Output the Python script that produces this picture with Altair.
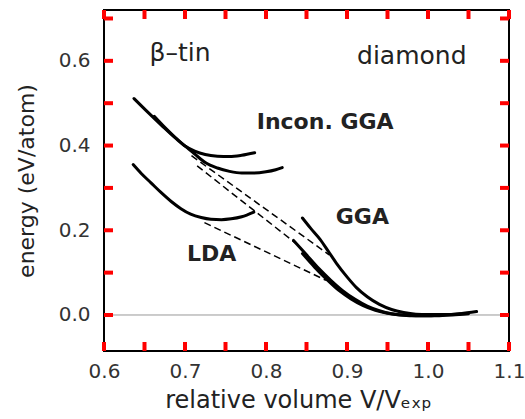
import altair as alt
import pandas as pd

# beta-tin branch (relative volume V/V_exp, energy in eV/atom)
tin_gga_v = [0.637, 0.655, 0.672, 0.688, 0.700, 0.712, 0.725, 0.740, 0.755, 0.770, 0.786]
tin_gga_e = [0.511, 0.477, 0.446, 0.418, 0.399, 0.387, 0.379, 0.375, 0.374, 0.377, 0.383]
tin_incon_v = [0.662, 0.675, 0.688, 0.700, 0.712, 0.725, 0.740, 0.755, 0.770, 0.785, 0.800, 0.812, 0.820]
tin_incon_e = [0.469, 0.443, 0.419, 0.399, 0.380, 0.360, 0.347, 0.339, 0.335, 0.335, 0.338, 0.343, 0.348]
tin_lda_v = [0.636, 0.646, 0.658, 0.670, 0.683, 0.695, 0.707, 0.720, 0.732, 0.745, 0.757, 0.770, 0.785]
tin_lda_e = [0.355, 0.334, 0.312, 0.290, 0.268, 0.251, 0.238, 0.230, 0.226, 0.225, 0.227, 0.232, 0.243]

# diamond branch
dia_gga_v = [0.845, 0.855, 0.867, 0.877, 0.887, 0.900, 0.912, 0.925, 0.940, 0.955, 0.970, 0.985, 1.000, 1.020, 1.040, 1.060]
dia_gga_e = [0.229, 0.205, 0.178, 0.150, 0.122, 0.090, 0.064, 0.043, 0.025, 0.013, 0.006, 0.002, 0.001, 0.001, 0.003, 0.008]
dia_incon_v = [0.834, 0.850, 0.865, 0.880, 0.895, 0.910, 0.925, 0.940, 0.955, 0.970, 1.000, 1.030, 1.050]
dia_incon_e = [0.176, 0.142, 0.110, 0.082, 0.057, 0.037, 0.021, 0.010, 0.003, 0.000, -0.002, 0.000, 0.003]
dia_lda_v = [0.845, 0.860, 0.875, 0.890, 0.905, 0.920, 0.935, 0.950, 0.965, 0.990, 1.020, 1.040]
dia_lda_e = [0.145, 0.113, 0.084, 0.058, 0.038, 0.022, 0.011, 0.004, 0.000, -0.002, 0.000, 0.003]

# common-tangent constructions between the two phases
tan_gga_v = [0.708, 0.878]
tan_gga_e = [0.376, 0.142]
tan_incon_v = [0.715, 0.843]
tan_incon_e = [0.352, 0.160]
tan_lda_v = [0.724, 0.874]
tan_lda_e = [0.218, 0.082]

# zero-energy reference line
zero_v = [0.6, 1.1]
zero_e = [0.0, 0.0]

# annotations
label_text = ["β–tin", "diamond", "Incon. GGA", "GGA", "LDA"]
label_v = [0.694, 0.980, 0.873, 0.919, 0.733]
label_e = [0.619, 0.612, 0.456, 0.232, 0.144]
label_bold = [False, False, True, True, True]

# axis ticks (drawn inward on all four sides)
x_ticks = [0.6, 0.65, 0.7, 0.75, 0.8, 0.85, 0.9, 0.95, 1.0, 1.05, 1.1]
y_ticks = [0.0, 0.1, 0.2, 0.3, 0.4, 0.5, 0.6, 0.7]

FONT = "DejaVu Sans"
W, H = 405, 341
X_DOMAIN = [0.6, 1.1]
Y_DOMAIN = [-0.085, 0.72]
TICK_PX = 9


def frame(name, vs, es):
    return pd.DataFrame({"curve": name, "v": vs, "e": es, "i": range(len(vs))})


solid = pd.concat([
    frame("tin GGA", tin_gga_v, tin_gga_e),
    frame("tin incon GGA", tin_incon_v, tin_incon_e),
    frame("tin LDA", tin_lda_v, tin_lda_e),
    frame("diamond GGA", dia_gga_v, dia_gga_e),
    frame("diamond incon GGA", dia_incon_v, dia_incon_e),
    frame("diamond LDA", dia_lda_v, dia_lda_e),
], ignore_index=True)
dashed = pd.concat([
    frame("tangent GGA", tan_gga_v, tan_gga_e),
    frame("tangent incon GGA", tan_incon_v, tan_incon_e),
    frame("tangent LDA", tan_lda_v, tan_lda_e),
], ignore_index=True)
zero = frame("zero", zero_v, zero_e)
labels = pd.DataFrame({"text": label_text, "v": label_v, "e": label_e,
                       "bold": [1 if b else 0 for b in label_bold]})

# short inward segments for the frame ticks, lengths converted from pixels to data units
dx = TICK_PX * (X_DOMAIN[1] - X_DOMAIN[0]) / W
dy = TICK_PX * (Y_DOMAIN[1] - Y_DOMAIN[0]) / H
tick_rows = []
for e in y_ticks:
    tick_rows.append({"v": X_DOMAIN[0], "v2": X_DOMAIN[0] + dx, "e": e, "e2": e})
    tick_rows.append({"v": X_DOMAIN[1] - dx, "v2": X_DOMAIN[1], "e": e, "e2": e})
for v in x_ticks:
    tick_rows.append({"v": v, "v2": v, "e": Y_DOMAIN[0], "e2": Y_DOMAIN[0] + dy})
    tick_rows.append({"v": v, "v2": v, "e": Y_DOMAIN[1] - dy, "e2": Y_DOMAIN[1]})
tick_segs = pd.DataFrame(tick_rows)

x_scale = alt.Scale(domain=X_DOMAIN, nice=False, zero=False)
y_scale = alt.Scale(domain=Y_DOMAIN, nice=False, zero=False)

axis_style = dict(
    ticks=False, domain=False, grid=False,
    labelFont=FONT, labelFontSize=20, labelColor="#333", labelFlush=False,
    labelOverlap=False, labelBound=False, titleFont=FONT, titleFontWeight="normal",
    titleColor="#222",
)

x_bottom = alt.Axis(
    orient="bottom", values=x_ticks, labelPadding=10,
    labelExpr="abs(round(datum.value*10) - datum.value*10) < 0.001 ? format(datum.value, '.1f') : ''",
    title="relative volume V/Vₑₓₚ", titleFontSize=24, titlePadding=7, titleX=194,
    **axis_style,
)
y_left = alt.Axis(
    orient="left", values=y_ticks, labelPadding=14,
    labelExpr="round(datum.value*10) % 2 == 0 ? format(datum.value, '.1f') : ''",
    title="energy (eV/atom)", titleFontSize=22, titlePadding=20,
    **axis_style,
)

X = alt.X("v:Q", scale=x_scale, axis=x_bottom)
Y = alt.Y("e:Q", scale=y_scale, axis=y_left)

ticks = alt.Chart(tick_segs).mark_rule(color="red", strokeWidth=4).encode(
    x=X, y=Y, x2="v2:Q", y2="e2:Q")

baseline = alt.Chart(zero).mark_line(color="#999", strokeWidth=1).encode(x=X, y=Y)

curves = alt.Chart(solid).mark_line(
    color="black", strokeWidth=3, strokeCap="round", interpolate="monotone"
).encode(x=X, y=Y, detail="curve:N", order="i:Q")

tangents = alt.Chart(dashed).mark_line(
    color="black", strokeWidth=1.5, strokeDash=[7, 4]
).encode(x=X, y=Y, detail="curve:N", order="i:Q")

text_regular = alt.Chart(labels).transform_filter("datum.bold == 0").mark_text(
    font=FONT, fontSize=25, color="#222", align="center", baseline="middle"
).encode(x=X, y=Y, text="text:N")

text_bold = alt.Chart(labels).transform_filter("datum.bold == 1").mark_text(
    font=FONT, fontSize=22, fontWeight="bold", color="#222", align="center", baseline="middle"
).encode(x=X, y=Y, text="text:N")

chart = alt.layer(
    baseline, curves, tangents, text_regular, text_bold, ticks,
).properties(
    width=W, height=H,
    autosize=alt.AutoSizeParams(type="none"),
    padding={"left": 104, "top": 10, "right": 16, "bottom": 68},
    background="white",
).configure_view(
    stroke="black", strokeWidth=2
)

chart.save("out.html", embed_options={"renderer": "svg", "actions": False})
